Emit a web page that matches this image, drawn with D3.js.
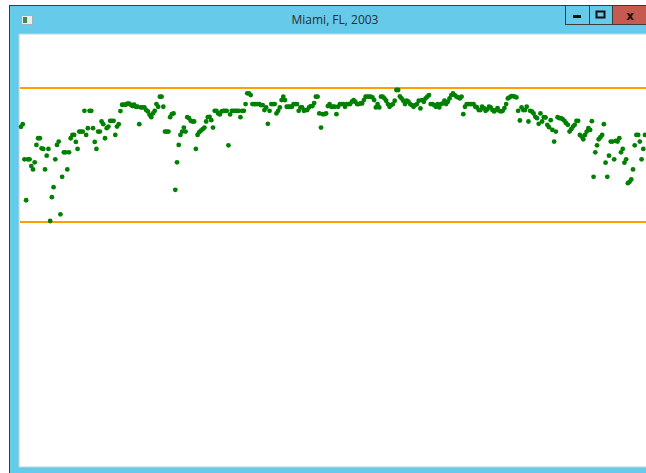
<!DOCTYPE html>
<html lang="en">
<head>
<meta charset="UTF-8">
<title>Miami, FL, 2003</title>
<script src="https://d3js.org/d3.v7.min.js"></script>
<style>
  html, body { margin: 0; padding: 0; background: #fff; }
  svg { display: block; }
</style>
</head>
<body>
<svg id="chart" width="646" height="473"></svg>
<script>
// window title
var title = "Miami, FL, 2003";

// reference lines (deg F)
var thresholds = [90, 50];

// daily mean temperature, day 1..365
var temps = [
  78.4,79.2,68.7,56.5,68.7,68.7,66.7,65.7,67.8,73,75,75,72,71.8,65.7,69.8,71.8,50.3,57.4,60.4,
  68.7,73,74,52.3,63.5,70.8,70.8,65.7,70.8,75,76,76,73.9,71.8,77,77,77,83.2,76,78,
  83.2,83.2,78,73.9,71.8,77,77,80,79.2,75,78,78.5,80.2,80.2,80.2,76,78.5,79.2,83.1,85,
  85,85,85.3,85.3,85,84.6,85,84.4,84.4,79.2,84.2,84.2,84.2,83.4,83,82,81.3,82.4,83.2,85.2,
  84.4,87.4,87.4,84.4,77,77,77,81.3,82.2,82.4,59.6,67.8,73,76,77,78.2,77,81.3,81,80.2,
  80,80,71.8,76,76.8,77.3,77.7,78.2,80,81.3,81.4,80.4,78.2,83.2,83.2,82.4,82.1,83,83.2,83.2,
  83.2,72.9,82.1,83.2,83.2,83.2,83.2,83.2,81.3,83.2,83.2,85.2,88.4,88.4,87.9,85.2,85.2,85.2,85.2,85.2,
  84.9,84.9,83.4,84.2,79.3,83.2,85.2,85.2,85.2,82.4,83.2,84.2,86.4,87.4,86.4,84.4,84.4,84.4,84.4,85.2,
  85.2,85.2,83.2,84.2,84.2,83.2,83.4,83.4,84.2,84.6,84.6,85.5,87.4,87.4,82.4,78.2,82.2,82.2,82.4,84.6,
  85.2,84.4,84.4,84.4,82.2,84.4,85.2,85.2,85.2,84.4,85.2,85.2,85.2,85.9,86.4,85.9,85.2,85.2,85.4,85.4,
  86.4,87.4,87.4,87.4,87.4,87.2,86.4,84.2,85.2,84.2,87.4,87.4,86.9,86.2,85.2,84.4,84.9,85.2,86.2,89.4,
  89.4,87.5,86.9,86.2,85.2,86.2,85.9,85.2,84.9,84.4,84.9,85.2,86.2,83.9,86.4,85.9,86.9,87.4,87.9,85.2,
  85.2,84.9,84.4,85.2,84.2,85.2,85.4,86.2,85.2,85.9,86.9,87.9,88.4,87.9,87.4,87.2,86.9,87.4,82.2,84.4,
  85.2,85.2,85.2,85.2,85.2,84.4,84.2,83.4,83.4,84.4,84,83.2,83.6,84.4,84.2,83.4,83,83.4,84,83.2,
  83,83.2,84,85.2,86.9,87.2,87.6,87.6,87.4,87.2,83.2,80.3,84.2,83.4,83.4,84.4,80,83.2,83,82.4,
  81.4,81,79.3,82.4,80,81.3,81.2,79,78.3,80.4,77.5,74,77,81.3,81,81,80.7,80.2,79.5,79,
  77,77.7,78.5,79,80.2,80.2,76,75.5,74.7,76,77,78,77.5,80.1,63.5,70.8,72.9,74.7,75.3,76,
  79.2,67.7,63.5,69.8,74,74,68.7,74.2,74,75,70.8,71.8,67.7,68.7,61.6,62,62.7,65.7,72.9,76,
  76,74,68.7,71.8,76
];

var svg = d3.select("#chart");

// --- window frame ---
svg.append("rect")
  .attr("x", 9.5).attr("y", 5.5).attr("width", 640).attr("height", 470)
  .attr("fill", "#66cbea").attr("stroke", "#3b3b3b").attr("stroke-width", 1);

// plot area
var plot = { x: 19, y: 34, w: 632, h: 433 };
svg.append("rect")
  .attr("x", plot.x).attr("y", plot.y).attr("width", plot.w).attr("height", plot.h)
  .attr("fill", "#fff").attr("stroke", "#b9d6e0").attr("stroke-width", 1);

// little app icon
svg.append("rect").attr("x", 21.5).attr("y", 15.5).attr("width", 11).attr("height", 9)
  .attr("fill", "#e8eef0").attr("stroke", "#9fb3bb");
svg.append("rect").attr("x", 23).attr("y", 17).attr("width", 4).attr("height", 6)
  .attr("fill", "#3f8a5a");

// title
svg.append("text")
  .attr("x", 335).attr("y", 24)
  .attr("text-anchor", "middle")
  .attr("font-family", "'Open Sans', 'Noto Sans', sans-serif")
  .attr("font-size", 12)
  .attr("fill", "#2b2b2b")
  .text(title);

// caption buttons
var buttons = [
  { x: 565, w: 24, fill: "#66cbea" },
  { x: 589, w: 23, fill: "#66cbea" },
  { x: 612, w: 36, fill: "#c75a50" }
];
svg.selectAll("rect.btn").data(buttons).enter().append("rect")
  .attr("class", "btn")
  .attr("x", function(d) { return d.x + 0.5; }).attr("y", 5.5)
  .attr("width", function(d) { return d.w; }).attr("height", 19)
  .attr("fill", function(d) { return d.fill; })
  .attr("stroke", "#3b3b3b");
svg.append("rect").attr("x", 573).attr("y", 15).attr("width", 8).attr("height", 3).attr("fill", "#111");
svg.append("rect").attr("x", 596.5).attr("y", 11.5).attr("width", 8).attr("height", 6)
  .attr("fill", "none").attr("stroke", "#111").attr("stroke-width", 2);
svg.append("text").attr("x", 630).attr("y", 19.5).attr("text-anchor", "middle")
  .attr("font-family", "'DejaVu Sans', sans-serif").attr("font-weight", "bold")
  .attr("font-size", 12).attr("fill", "#111").text("x");

// --- scales ---
var x = d3.scaleLinear().domain([0, temps.length - 1]).range([21, 645]);
var y = d3.scaleLinear().domain([50, 90]).range([222, 88]);

var g = svg.append("g");

g.selectAll("line.limit").data(thresholds).enter().append("line")
  .attr("class", "limit")
  .attr("x1", plot.x + 1).attr("x2", plot.x + plot.w)
  .attr("y1", function(d) { return y(d); })
  .attr("y2", function(d) { return y(d); })
  .attr("stroke", "#ffa000").attr("stroke-width", 2);

g.selectAll("circle").data(temps).enter().append("circle")
  .attr("cx", function(d, i) { return x(i); })
  .attr("cy", function(d) { return y(d); })
  .attr("r", 2.4)
  .attr("fill", "#008000");
</script>
</body>
</html>
